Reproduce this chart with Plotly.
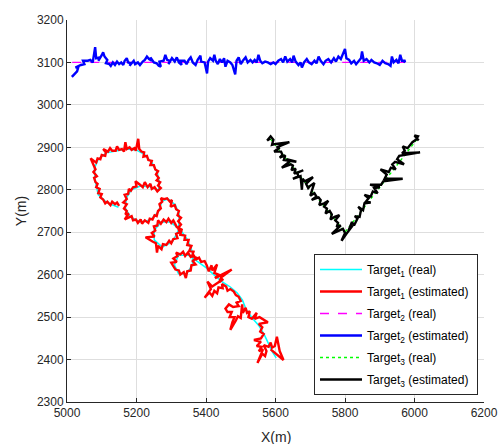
import plotly.graph_objects as go

# ---------------- data ----------------
t1_real = [(5148,2759),(5116,2769),(5090,2788),(5081,2821),(5079,2851),(5090,2872),(5113,2887),(5142,2891),
           (5171,2896),(5199,2894),(5225,2882),(5245,2863),(5260,2840),(5266,2816),(5263,2799),(5240,2807),
           (5211,2809),(5185,2800),(5171,2781),(5168,2757),(5182,2736),(5211,2724),(5240,2729),(5263,2748),
           (5274,2774),(5292,2778),(5312,2764),(5323,2741),(5321,2705),(5303,2677),(5274,2665),(5251,2682),
           (5251,2705),(5272,2724),(5298,2724),(5327,2705),(5347,2682),(5361,2653),(5361,2623),(5344,2602),
           (5321,2602),(5309,2623),(5321,2646),(5350,2646),(5378,2630),(5401,2616),(5424,2599),(5447,2583),
           (5470,2571),(5490,2557),(5505,2540),(5516,2517),(5533,2498),(5553,2479),(5568,2458),(5579,2437),
           (5591,2418),(5602,2404)]

t1_est = [(5150,2762),(5144,2770),(5138,2766),(5130,2772),(5125,2764),(5116,2772),(5110,2768),(5104,2777),
          (5096,2782),(5100,2790),(5090,2792),(5094,2802),(5084,2806),(5088,2814),(5082,2818),(5078,2828),
          (5086,2832),(5076,2842),(5082,2848),(5078,2856),(5068,2874),(5084,2864),(5088,2874),(5096,2872),
          (5100,2882),(5110,2880),(5112,2888),(5104,2896),(5118,2890),(5124,2898),(5130,2892),(5140,2892),
          (5144,2902),(5150,2894),(5158,2896),(5164,2890),(5168,2912),(5172,2896),(5180,2900),(5186,2894),
          (5194,2898),(5198,2892),(5205,2920),(5208,2896),(5214,2890),(5222,2888),(5220,2878),(5230,2880),
          (5234,2870),(5244,2868),(5240,2858),(5250,2858),(5254,2848),(5262,2844),(5256,2836),(5264,2828),
          (5258,2822),(5268,2818),(5262,2810),(5270,2804),(5260,2796),
          (5252,2806),(5244,2802),(5240,2814),(5232,2806),(5224,2818),(5218,2806),(5210,2812),(5197,2820),
          (5200,2808),(5190,2806),(5184,2798),(5178,2802),(5176,2790),(5166,2788),(5172,2778),(5162,2770),
          (5172,2766),(5164,2756),(5172,2750),(5168,2742),(5178,2744),(5166,2730),(5186,2738),(5190,2728),
          (5198,2730),(5204,2722),(5212,2730),(5216,2720),(5224,2728),(5234,2722),(5238,2732),(5246,2730),
          (5252,2740),(5258,2738),(5262,2750),(5270,2756),(5266,2766),(5274,2772),(5270,2780),(5280,2778),
          (5288,2780),(5296,2772),(5302,2776),(5298,2760),(5310,2764),(5314,2754),(5322,2750),(5318,2740),
          (5328,2734),(5320,2726),(5328,2718),(5320,2710),(5324,2700),(5314,2696),(5318,2686),(5306,2684),
          (5300,2674),(5294,2680),(5286,2670),(5276,2672),(5272,2660),(5262,2668),(5259,2652),(5256,2674),
          (5246,2678),(5226,2688),(5252,2690),(5244,2698),(5254,2704),(5250,2714),(5260,2716),(5262,2728),
          (5270,2720),(5278,2730),(5286,2724),(5292,2732),(5300,2722),(5306,2728),(5316,2712),
          (5330,2706),(5326,2694),(5340,2692),(5338,2682),(5350,2682),(5346,2670),(5358,2668),(5352,2656),
          (5364,2654),(5360,2644),(5372,2640),(5362,2632),(5370,2624),(5358,2622),(5356,2610),(5346,2608),
          (5342,2592),(5336,2606),(5326,2600),(5322,2610),(5312,2612),(5300,2628),(5316,2630),(5306,2638),
          (5318,2644),(5314,2652),(5326,2648),(5334,2654),(5340,2644),(5348,2652),(5356,2642),(5364,2646),
          (5372,2636),(5380,2640),(5386,2630),(5396,2632),
          (5402,2622),(5408,2608),(5416,2622),(5418,2610),(5432,2624),(5424,2604),(5436,2600),(5426,2592),
          (5474,2612),(5444,2594),(5438,2582),(5450,2590),(5430,2578),(5418,2572),(5404,2584),(5414,2566),
          (5396,2546),(5410,2558),(5418,2550),(5424,2562),(5432,2556),(5436,2570),(5448,2568),(5446,2578),
          (5458,2572),(5462,2562),(5470,2566),(5480,2560),(5486,2552),
          (5494,2548),(5500,2538),(5488,2534),(5494,2526),(5478,2524),(5466,2530),(5456,2520),(5462,2512),
          (5474,2512),(5468,2500),(5482,2500),(5476,2488),(5470,2470),(5486,2492),(5492,2502),(5500,2498),
          (5504,2530),(5506,2510),(5514,2522),(5518,2510),(5526,2514),(5522,2500),(5532,2496),
          (5546,2510),(5540,2496),(5554,2500),(5578,2488),(5552,2484),(5562,2476),(5556,2466),(5566,2460),
          (5558,2450),(5538,2446),(5558,2442),(5546,2432),(5560,2430),(5552,2420),(5564,2424),(5548,2392),
          (5562,2414),(5570,2408),(5574,2420),(5566,2434),(5580,2430),(5586,2440),(5590,2428),(5598,2432),
          (5604,2454),(5612,2420),(5623,2399),(5586,2424)]

t2_real = [(5015,3100),(5975,3100)]

t2_est = [(5014,3066),(5022,3072),(5029,3079),(5033,3090),(5024,3088),(5040,3094),(5050,3096),(5046,3104),
          (5060,3104),(5067,3106),(5074,3100),(5081,3136),(5084,3110),(5094,3112),(5090,3104),(5100,3117),
          (5104,3124),(5108,3114),(5116,3106),(5112,3098),(5122,3096),(5126,3092),(5132,3100),(5138,3094),
          (5144,3102),(5150,3096),(5156,3100),(5162,3094),(5166,3104),(5172,3110),(5176,3100),(5184,3098),
          (5180,3092),(5192,3104),(5196,3096),(5204,3100),(5210,3094),(5218,3102),(5224,3106),(5230,3114),
          (5236,3108),(5244,3104),(5240,3112),(5250,3100),(5258,3098),(5264,3092),(5270,3090),(5266,3102),
          (5278,3104),(5283,3118),(5288,3106),(5296,3104),(5292,3096),(5302,3110),(5310,3102),(5316,3112),
          (5322,3100),(5330,3094),(5326,3104),(5338,3104),(5344,3096),(5350,3106),(5356,3112),(5362,3100),
          (5370,3094),(5376,3106),(5384,3116),(5386,3102),(5396,3100),(5403,3074),(5406,3102),(5412,3110),
          (5420,3104),(5424,3118),(5428,3104),(5434,3096),(5440,3108),(5446,3100),(5452,3110),(5456,3090),
          (5462,3104),(5470,3100),(5476,3094),(5484,3072),(5488,3104),(5494,3112),(5500,3096),(5506,3104),
          (5514,3112),(5520,3100),(5528,3106),(5534,3100),(5540,3106),(5546,3100),(5551,3118),(5556,3104),
          (5562,3098),(5570,3102),(5578,3100),(5586,3096),(5594,3100),(5600,3096),(5608,3104),(5616,3108),
          (5622,3100),(5628,3114),(5634,3102),(5642,3108),(5648,3100),(5652,3116),(5658,3102),(5666,3094),
          (5672,3100),(5676,3088),(5682,3100),(5690,3108),(5696,3100),(5704,3096),(5712,3104),(5718,3098),
          (5724,3114),(5730,3104),(5738,3096),(5744,3104),(5752,3108),(5760,3100),(5768,3110),(5774,3102),
          (5781,3114),(5788,3108),(5794,3120),(5800,3132),(5804,3110),(5812,3106),(5818,3098),(5826,3104),
          (5832,3096),(5840,3104),(5846,3110),(5849,3126),(5854,3104),(5862,3108),(5870,3100),(5876,3106),
          (5884,3100),(5892,3098),(5900,3094),(5908,3104),(5916,3098),(5924,3096),(5931,3092),(5935,3114),
          (5940,3100),(5948,3106),(5954,3098),(5959,3118),(5964,3104),(5974,3104),(5968,3100)]

t3_real = [(5585,2920),(5800,2700),(6010,2922)]

t3_est = [(5585,2921),(5576,2916),(5586,2926),(5594,2918),(5590,2906),(5601,2908),(5640,2912),(5603,2900),
          (5612,2899),(5596,2890),(5616,2890),(5620,2882),(5612,2876),(5628,2881),(5624,2870),(5660,2866),
          (5632,2872),(5640,2866),(5618,2852),(5644,2860),(5650,2857),(5646,2846),(5658,2850),(5654,2838),
          (5680,2846),(5662,2840),(5666,2832),(5650,2826),(5672,2832),(5676,2800),(5678,2826),(5684,2820),
          (5708,2830),(5688,2814),(5694,2804),(5698,2808),(5712,2816),(5704,2798),(5700,2786),(5712,2792),
          (5718,2784),(5704,2776),(5724,2782),(5730,2776),(5726,2764),(5740,2768),(5752,2774),(5740,2760),
          (5748,2756),(5744,2744),(5756,2750),(5762,2742),(5758,2730),(5770,2736),(5784,2740),(5772,2728),
          (5780,2722),(5776,2712),(5788,2716),(5762,2696),(5794,2708),(5800,2698),(5790,2680),(5804,2696),
          (5822,2716),(5810,2704),
          (5812,2708),(5820,2724),(5826,2716),(5836,2732),(5828,2738),(5842,2736),(5846,2752),(5838,2760),
          (5852,2752),(5856,2768),(5874,2770),(5860,2772),(5868,2780),(5856,2788),(5874,2784),(5880,2796),
          (5894,2792),(5884,2804),(5900,2806),(5872,2812),(5904,2812),(5910,2820),(5966,2826),(5914,2826),
          (5920,2836),(5902,2848),(5926,2842),(5932,2852),(5946,2848),(5936,2860),(5944,2866),(5970,2860),
          (5950,2872),(5956,2880),(6016,2888),(5964,2886),(5972,2892),(5966,2902),(5980,2898),(5988,2906),
          (5994,2912),(6004,2918),(6010,2926),(6000,2928),(6012,2916)]

x_ticks = [5000, 5200, 5400, 5600, 5800, 6000, 6200]
y_ticks = [2300, 2400, 2500, 2600, 2700, 2800, 2900, 3000, 3100, 3200]

# ---------------- figure ----------------
def xs(p):
    return [a for a, b in p]

def ys(p):
    return [b for a, b in p]

NB = "\u00a0"
series = [
    ("Target<sub>1</sub> (real)", t1_real, dict(color="#00FFFF", width=1.5)),
    ("Target<sub>1</sub> (estimated)" + NB, t1_est, dict(color="#FF0000", width=2.4)),
    ("Target<sub>2</sub> (real)", t2_real, dict(color="#FF00FF", width=1.3, dash="dash")),
    ("Target<sub>2</sub> (estimated)" + NB, t2_est, dict(color="#0000FF", width=2.4)),
    ("Target<sub>3</sub> (real)", t3_real, dict(color="#00FF00", width=1.3, dash="dot")),
    ("Target<sub>3</sub> (estimated)" + NB, t3_est, dict(color="#000000", width=2.4)),
]

fig = go.Figure()
for i, (name, pts, line) in enumerate(series):
    fig.add_trace(go.Scatter(x=xs(pts), y=ys(pts), mode="lines", name=name, line=line,
                             legendgroup="g%d" % i))

font_family = "Liberation Sans, Arial"
axis_common = dict(
    showline=True, linecolor="#262626", linewidth=1,
    ticks="inside", ticklen=4, tickcolor="#262626",
    showgrid=True, gridcolor="#dedede", gridwidth=1,
    zeroline=False, mirror=False, automargin=False,
    tickfont=dict(family=font_family, size=12, color="#262626"),
)

fig.update_xaxes(range=[5000, 6200], tickvals=x_ticks, ticktext=[str(v) for v in x_ticks],
                 **axis_common)
fig.update_yaxes(range=[2300, 3200], tickvals=y_ticks, ticktext=[str(v) for v in y_ticks],
                 title=dict(text="Y(m)", font=dict(family=font_family, size=14, color="#262626"), standoff=6),
                 **axis_common)

fig.add_annotation(text="X(m)", xref="paper", yref="paper", x=0.5, y=-(437 - 402) / 382,
                   xanchor="center", yanchor="middle", showarrow=False,
                   font=dict(family=font_family, size=14, color="#262626"))

fig.update_layout(
    width=499, height=444,
    margin=dict(l=67, r=15, t=20, b=42),
    paper_bgcolor="white", plot_bgcolor="white",
    showlegend=True,
    legend=dict(x=(314 - 67) / 417, y=(402 - 395) / 382, xanchor="left", yanchor="bottom",
                bgcolor="white", bordercolor="#262626", borderwidth=1,
                font=dict(family=font_family, size=12, color="#000000"),
                itemwidth=42, tracegroupgap=3),
)

fig.write_html("out.html")
